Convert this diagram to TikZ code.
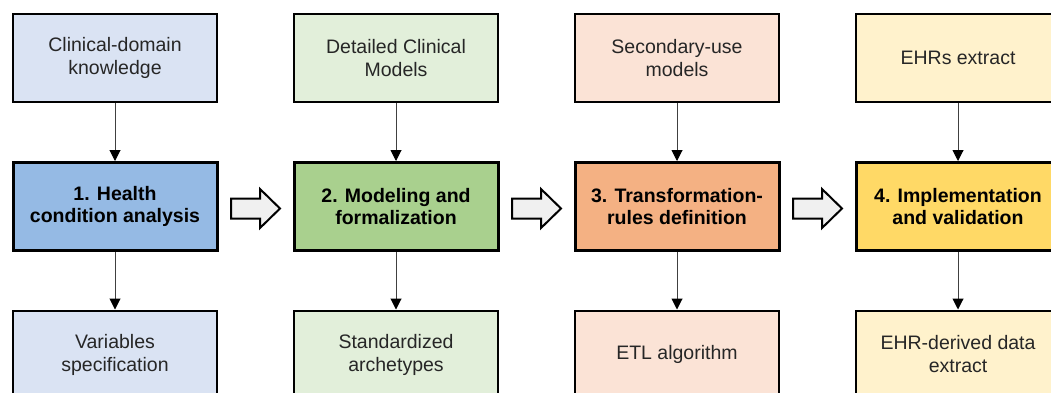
\documentclass[tikz,border=0pt]{standalone}
\usepackage{fontspec}
\setmainfont{Liberation Sans}
\usepackage{tikz}
\usetikzlibrary{calc}
\usetikzlibrary{shapes}
\usetikzlibrary{arrows.meta}

\definecolor{blueL}{HTML}{DAE3F3}
\definecolor{blueM}{HTML}{95BAE4}
\definecolor{greenL}{HTML}{E2EFDA}
\definecolor{greenM}{HTML}{A9D08E}
\definecolor{orangeL}{HTML}{FBE3D6}
\definecolor{orangeM}{HTML}{F4B183}
\definecolor{yellowL}{HTML}{FFF2CC}
\definecolor{yellowM}{HTML}{FFD966}

\begin{document}
\begin{tikzpicture}[x=1pt, y=1pt,
  src/.style={draw=black, line width=2pt, minimum width=204pt, minimum height=88pt, align=center, text=black!85, font=\fontsize{19.5}{23}\selectfont},
  stage/.style={draw=black, line width=3pt, minimum width=204pt, minimum height=88pt, align=center, font=\fontsize{19.5}{22}\selectfont\bfseries},
  link/.style={draw=black!75, line width=1pt, -{Triangle[width=11pt,length=11pt,black]}},
  blockarrow/.style={draw=black, line width=2pt, fill=black!6, line join=miter}]
\useasboundingbox (0,0) rectangle (1051,-392);
\node[name=h1, stage, fill=blueM] at (115,-206.5) {1. Health\\condition analysis};
\node[name=h2, stage, fill=greenM, node distance=281pt, right of=h1] {2. Modeling and\\formalization};
\node[name=h3, stage, fill=orangeM, node distance=281pt, right of=h2] {3. Transformation-\\rules definition};
\node[name=h4, stage, fill=yellowM, node distance=281pt, right of=h3] {4. Implementation\\and validation};

\node[name=k1, src, fill=blueL, node distance=148.5pt, above of=h1] {Clinical-domain\\knowledge};
\node[name=k2, src, fill=greenL, node distance=148.5pt, above of=h2] {Detailed Clinical\\Models};
\node[name=k3, src, fill=orangeL, node distance=148.5pt, above of=h3] {Secondary-use\\models};
\node[name=k4, src, fill=yellowL, node distance=148.5pt, above of=h4] {EHRs extract};

\node[name=o1, src, fill=blueL, node distance=148pt, below of=h1] {Variables\\specification};
\node[name=o2, src, fill=greenL, node distance=148pt, below of=h2] {Standardized\\archetypes};
\node[name=o3, src, fill=orangeL, node distance=148pt, below of=h3] {ETL algorithm};
\node[name=o4, src, fill=yellowL, node distance=148pt, below of=h4] {EHR-derived data\\extract};

\coordinate (a1) at ($(h1.east)!0.5!(h2.west)+(0,-2)$);
\coordinate (a2) at ($(h2.east)!0.5!(h3.west)+(0,-2)$);
\coordinate (a3) at ($(h3.east)!0.5!(h4.west)+(0,-2)$);
\draw[blockarrow] ($(a1)+(-24.5,-10)$) -- ++(29,0) -- ++(0,-9.5) -- ++(20,19.5) -- ++(-20,19.5) -- ++(0,-9.5) -- ++(-29,0) -- cycle;
\draw[blockarrow] ($(a2)+(-24.5,-10)$) -- ++(29,0) -- ++(0,-9.5) -- ++(20,19.5) -- ++(-20,19.5) -- ++(0,-9.5) -- ++(-29,0) -- cycle;
\draw[blockarrow] ($(a3)+(-24.5,-10)$) -- ++(29,0) -- ++(0,-9.5) -- ++(20,19.5) -- ++(-20,19.5) -- ++(0,-9.5) -- ++(-29,0) -- cycle;

\draw[link] (k1) -- (h1);
\draw[link] (k2) -- (h2);
\draw[link] (k3) -- (h3);
\draw[link] (k4) -- (h4);
\draw[link] (h1) -- (o1);
\draw[link] (h2) -- (o2);
\draw[link] (h3) -- (o3);
\draw[link] (h4) -- (o4);
\end{tikzpicture}
\end{document}
